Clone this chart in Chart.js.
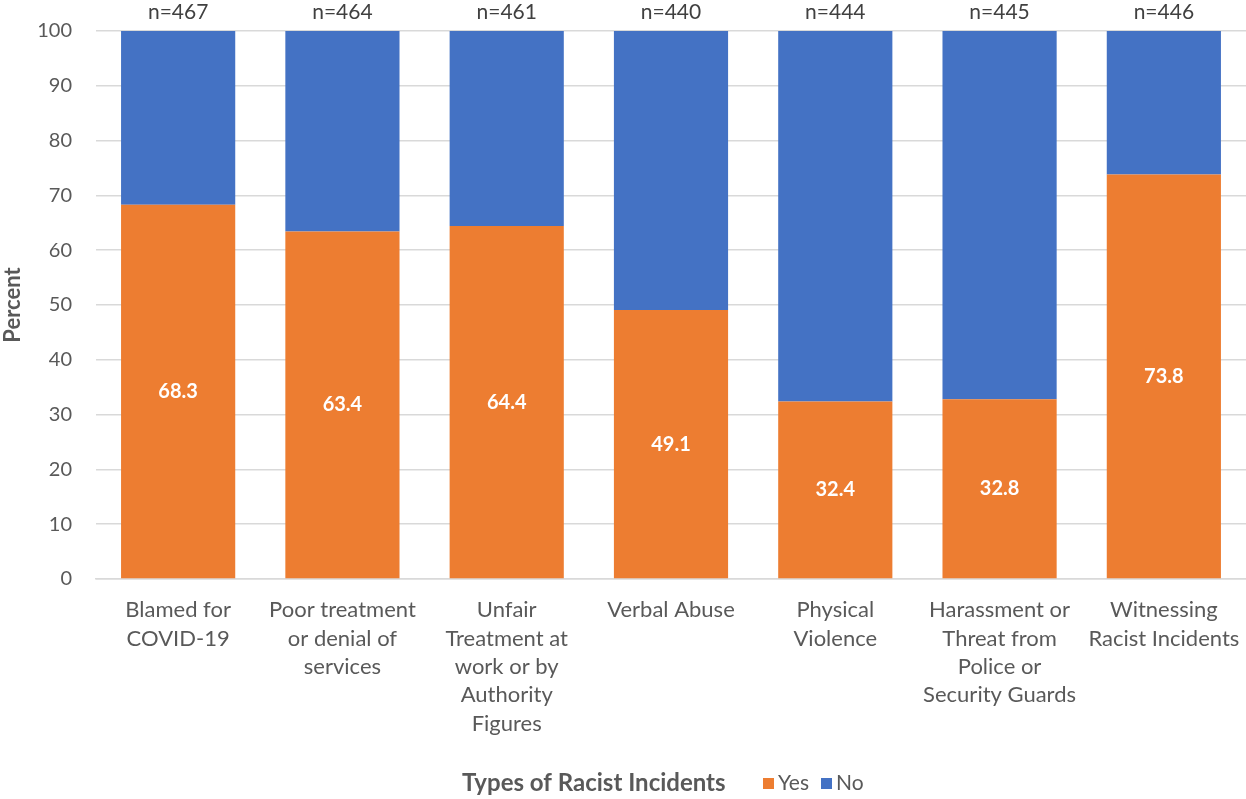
<!DOCTYPE html>
<html>
<head>
<meta charset="utf-8">
<title>Types of Racist Incidents</title>
<script src="https://cdn.jsdelivr.net/npm/chart.js@4"></script>
<style>
  html, body { margin: 0; padding: 0; background: #fff; }
  canvas { display: block; }
</style>
</head>
<body>
<canvas id="incidents" width="1246" height="799"></canvas>
<script>
// Stacked percentages per incident type
const categories = [
  ['Blamed for', 'COVID-19'],
  ['Poor treatment', 'or denial of', 'services'],
  ['Unfair', 'Treatment at', 'work or by', 'Authority', 'Figures'],
  ['Verbal Abuse'],
  ['Physical', 'Violence'],
  ['Harassment or', 'Threat from', 'Police or', 'Security Guards'],
  ['Witnessing', 'Racist Incidents']
];
const yesValues = [68.3, 63.4, 64.4, 49.1, 32.4, 32.8, 73.8];
const noValues = [31.7, 36.6, 35.6, 50.9, 67.6, 67.2, 26.2];
const sampleSizes = [467, 464, 461, 440, 444, 445, 446];
const yTicks = [0, 10, 20, 30, 40, 50, 60, 70, 80, 90, 100];

const FONT = 'Lato, "Open Sans", sans-serif';
const GREY = '#595959';
const ORANGE = '#ED7D31';
const BLUE = '#4472C4';
const CLEAR = 'rgba(0,0,0,0)';

// n= above each bar, value inside the Yes segment, title + legend along the bottom
const labelsPlugin = {
  id: 'incidentLabels',
  afterDatasetsDraw(chart) {
    const ctx = chart.ctx;
    const yes = chart.getDatasetMeta(0);
    const no = chart.getDatasetMeta(1);
    ctx.save();
    ctx.textAlign = 'center';
    ctx.textBaseline = 'middle';

    ctx.fillStyle = '#404040';
    ctx.font = '21px ' + FONT;
    no.data.forEach((bar, i) => {
      ctx.fillText('n=' + sampleSizes[i], bar.x, bar.y - 19);
    });

    ctx.fillStyle = '#ffffff';
    ctx.font = 'bold 20px ' + FONT;
    yes.data.forEach((bar, i) => {
      ctx.fillText(yesValues[i].toFixed(1), bar.x, (bar.y + bar.base) / 2);
    });

    // axis title and legend share one line
    const y = 783;
    ctx.textAlign = 'left';
    ctx.fillStyle = GREY;
    ctx.font = 'bold 24px ' + FONT;
    ctx.fillText('Types of Racist Incidents', 462, y);

    ctx.font = '21px ' + FONT;
    const items = [['Yes', ORANGE, 763], ['No', BLUE, 821]];
    items.forEach(([text, color, x]) => {
      ctx.fillStyle = color;
      ctx.fillRect(x, y - 5, 11, 11);
      ctx.fillStyle = GREY;
      ctx.fillText(text, x + 15, y);
    });
    ctx.restore();
  }
};

new Chart(document.getElementById('incidents').getContext('2d'), {
  type: 'bar',
  data: {
    labels: categories,
    datasets: [
      { label: 'Yes', data: yesValues, backgroundColor: ORANGE, barPercentage: 0.695, categoryPercentage: 1 },
      { label: 'No', data: noValues, backgroundColor: BLUE, barPercentage: 0.695, categoryPercentage: 1 }
    ]
  },
  options: {
    responsive: false,
    animation: false,
    layout: { padding: { top: 31, right: 0, bottom: 0, left: 0 } },
    plugins: {
      legend: { display: false },
      tooltip: { enabled: false }
    },
    scales: {
      x: {
        stacked: true,
        // invisible tick marks keep the label gap without extra edge padding
        grid: { color: CLEAR, drawTicks: true, tickLength: 15, tickColor: CLEAR },
        border: { display: true, color: '#d9d9d9', width: 1.5 },
        ticks: {
          color: GREY,
          font: { family: FONT, size: 22, lineHeight: 1.29 },
          padding: 2,
          maxRotation: 0,
          autoSkip: false
        },
        afterFit(scale) { scale.height = 220; }
      },
      y: {
        stacked: true,
        min: 0,
        max: 100,
        afterBuildTicks(scale) { scale.ticks = yTicks.map(v => ({ value: v })); },
        grid: { color: '#d9d9d9', lineWidth: 1.5, drawTicks: true, tickLength: 20, tickColor: CLEAR },
        border: { display: false },
        ticks: {
          color: GREY,
          font: { family: FONT, size: 20 },
          padding: 4
        },
        title: {
          display: true,
          text: 'Percent',
          color: GREY,
          font: { family: FONT, size: 22, weight: 'bold' },
          padding: { top: 0, bottom: 0 }
        },
        afterFit(scale) { scale.width = 96; }
      }
    }
  },
  plugins: [labelsPlugin]
});
</script>
</body>
</html>
